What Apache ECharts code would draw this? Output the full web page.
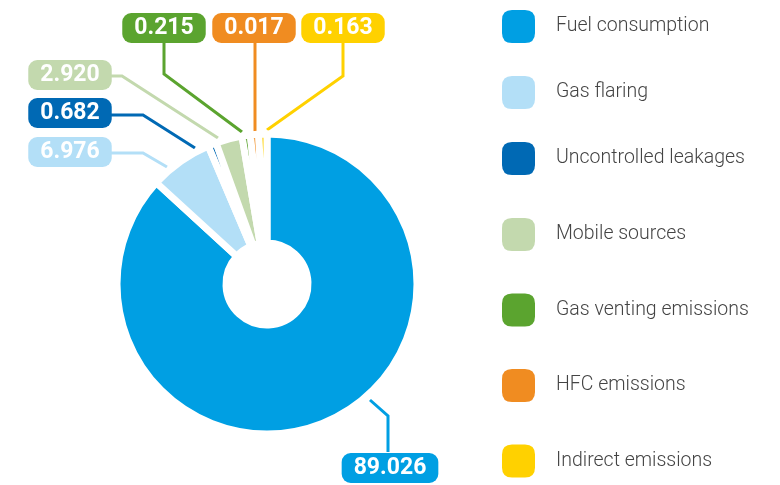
<!DOCTYPE html>
<html>
<head>
<meta charset="utf-8">
<script src="https://cdn.jsdelivr.net/npm/echarts@6/dist/echarts.min.js"></script>
<style>
  html, body { margin: 0; padding: 0; background: #fff; }
  #chart { width: 780px; height: 485px; }
</style>
</head>
<body>
<div id="chart"></div>
<script>
// data
const categories = ['Fuel consumption', 'Gas flaring', 'Uncontrolled leakages', 'Mobile sources',
  'Gas venting emissions', 'HFC emissions', 'Indirect emissions'];
const values = [89.026, 6.976, 0.682, 2.920, 0.215, 0.017, 0.163];
const colors = ['#009fe3', '#b3dff7', '#0069b4', '#c3d9ae', '#5ba42f', '#f08c21', '#ffd100'];

// where each value box sits and how its leader line runs (slice -> elbow -> box)
const labelBoxes = [
  { x: 390, y: 468, line: [[370, 400], [388, 416], [388, 452]] },
  { x: 70, y: 152, line: [[167, 167], [143, 153], [111, 153]] },
  { x: 70, y: 113, line: [[195, 148], [143, 115], [111, 115]] },
  { x: 70, y: 75, line: [[218, 138], [122, 76], [111, 76]] },
  { x: 164, y: 28, line: [[242, 132], [164, 74], [164, 43]] },
  { x: 254, y: 28, line: [[255, 132], [255, 90], [255, 43]] },
  { x: 343, y: 28, line: [[267, 130], [343, 76], [343, 43]] }
];

const roundIcon = 'path://M10,0 H23 Q33,0 33,10 V23 Q33,33 23,33 H10 Q0,33 0,23 V10 Q0,0 10,0 Z';

const chart = echarts.init(document.getElementById('chart'));

const legendBase = {
  orient: 'vertical',
  left: 502,
  padding: 0,
  icon: roundIcon,
  itemWidth: 33,
  itemHeight: 33,
  selectedMode: false,
  itemStyle: { borderWidth: 0 },
  textStyle: {
    fontFamily: 'Roboto',
    fontSize: 19.5,
    fontWeight: 300,
    color: '#444',
    padding: [0, 0, 0, 16]
  }
};

const option = {
  animation: false,
  color: colors,
  legend: [
    Object.assign({}, legendBase, { data: categories.slice(0, 3), top: 10, itemGap: 33 }),
    Object.assign({}, legendBase, { data: categories.slice(3), top: 218, itemGap: 42.5 })
  ],
  series: [
    {
      type: 'pie',
      center: [267, 284],
      radius: [41, 150],
      startAngle: 90,
      minAngle: 3.2,
      avoidLabelOverlap: false,
      itemStyle: { borderColor: '#fff', borderWidth: 7 },
      emphasis: { disabled: true },
      label: {
        show: true,
        position: 'outside',
        formatter: p => values[p.dataIndex].toFixed(3),
        fontFamily: 'Roboto',
        fontWeight: 'bold',
        fontSize: 23,
        lineHeight: 22,
        color: '#fff',
        padding: [4, 12, 4, 12],
        borderRadius: 9
      },
      labelLine: { show: true, smooth: false, lineStyle: { width: 3 } },
      labelLayout: function (params) {
        const b = labelBoxes[params.dataIndex];
        return {
          x: b.x,
          y: b.y,
          align: 'center',
          verticalAlign: 'middle',
          labelLinePoints: b.line
        };
      },
      data: categories.map((name, i) => ({
        name: name,
        value: values[i],
        itemStyle: { color: colors[i] },
        label: { backgroundColor: colors[i] }
      }))
    }
  ]
};

chart.setOption(option);
</script>
</body>
</html>
